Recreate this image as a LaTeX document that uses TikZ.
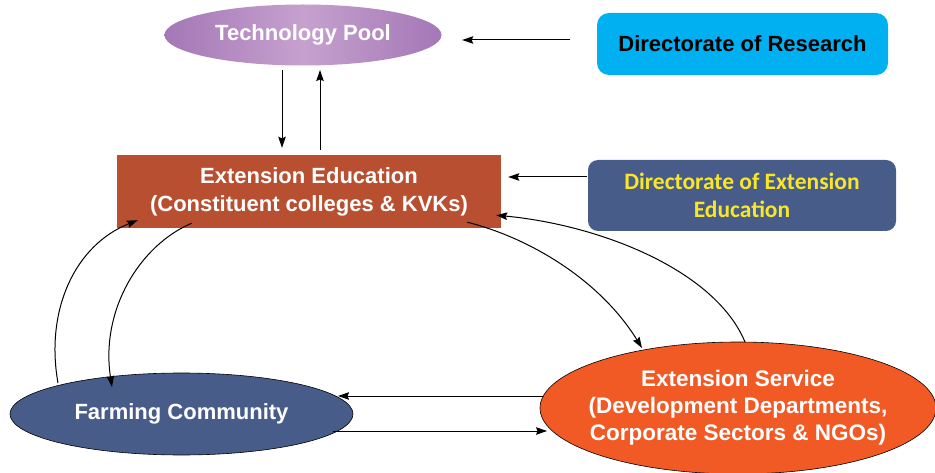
\documentclass[tikz,border=0pt]{standalone}
\usepackage{fontspec}
\setmainfont{Liberation Sans}
\newfontfamily\deefont{Carlito}
\usetikzlibrary{shapes.geometric,arrows.meta}
\definecolor{tpEdge}{HTML}{A477B6}
\definecolor{tpMid}{HTML}{C6A1CE}
\definecolor{drFill}{HTML}{00B0F0}
\definecolor{eeFill}{HTML}{B94F31}
\definecolor{slate}{HTML}{485C8A}
\definecolor{esFill}{HTML}{F15A25}
\definecolor{deeText}{HTML}{F7E62A}
\tikzset{
  txt/.style={font=\bfseries\fontsize{22}{28}\selectfont, align=center, inner sep=0pt},
  arr/.style={line width=1pt, -{Stealth[length=11pt,width=7.5pt,inset=1.5pt]}},
  oval/.style={ellipse, draw=black, line width=0.6pt, inner sep=0pt},
}
\begin{document}
\begin{tikzpicture}[x=1pt,y=-1pt]
\useasboundingbox (0,0) rectangle (935,473);

% nodes
\node[ellipse, inner sep=0pt, minimum width=277pt, minimum height=61pt,
      left color=tpEdge, right color=tpEdge, middle color=tpMid,
      txt, text=white] (tp) at (303,35) {Technology Pool};
\node[rectangle, rounded corners=12pt, fill=drFill, minimum width=291pt, minimum height=62pt,
      txt, text=black] (dr) at (742.5,44) {Directorate of Research};
\node[rectangle, fill=eeFill, minimum width=384pt, minimum height=73pt,
      txt, text=white] (ee) at (309,191.5) {Extension Education\\(Constituent colleges \& KVKs)};
\node[rectangle, rounded corners=10pt, fill=slate, minimum width=308pt, minimum height=71pt,
      txt, font=\deefont\bfseries\fontsize{23.5}{28}\selectfont, text=deeText] (dee) at (742,195.5)
      {Directorate of Extension\\Education};
\node[oval, fill=slate, minimum width=343pt, minimum height=82pt,
      txt, text=white] (fc) at (181.5,414) {Farming Community};
\node[oval, fill=esFill, minimum width=396pt, minimum height=132pt,
      txt, inner xsep=-14pt, font=\bfseries\fontsize{22.5}{27}\selectfont, text=white] (es) at (738,408)
      {Extension Service\\(Development Departments,\\Corporate Sectors \& NGOs)};

% straight connectors
\draw[arr] ([shift={(-27,-4)}]dr.west) -- ([shift={(20.5,5)}]tp.east);
\draw[arr] ([shift={(-21,35)}]tp.center) -- ([shift={(-27,-7)}]ee.north);
\draw[arr] ([shift={(11,-5)}]ee.north) -- ([shift={(17,35)}]tp.center);
\draw[arr] ([shift={(-1,-18.5)}]dee.west) -- ([shift={(7,-14.5)}]ee.east);
\draw[arr] ([shift={(-195,-12)}]es.center) -- ([shift={(156.5,-18)}]fc.center);
\draw[arr] ([shift={(151.5,17)}]fc.center) -- ([shift={(-191,23)}]es.center);

% curved connectors
\draw[arr] ([shift={(7,-66)}]es.center) .. controls (715,270) and (600,225) .. ([shift={(-5,-13)}]ee.south east);
\draw[arr] ([shift={(-34,-6)}]ee.south east) .. controls (530,238) and (600,280) .. ([shift={(-96,-60)}]es.center);
\draw[arr] ([shift={(-123.5,-31)}]fc.center) .. controls (45,310) and (75,245) .. ([shift={(21,-8)}]ee.south west);
\draw[arr] ([shift={(75,-5)}]ee.south west) .. controls (140,245) and (100,310) .. ([shift={(-69.5,-27)}]fc.center);
\end{tikzpicture}
\end{document}
